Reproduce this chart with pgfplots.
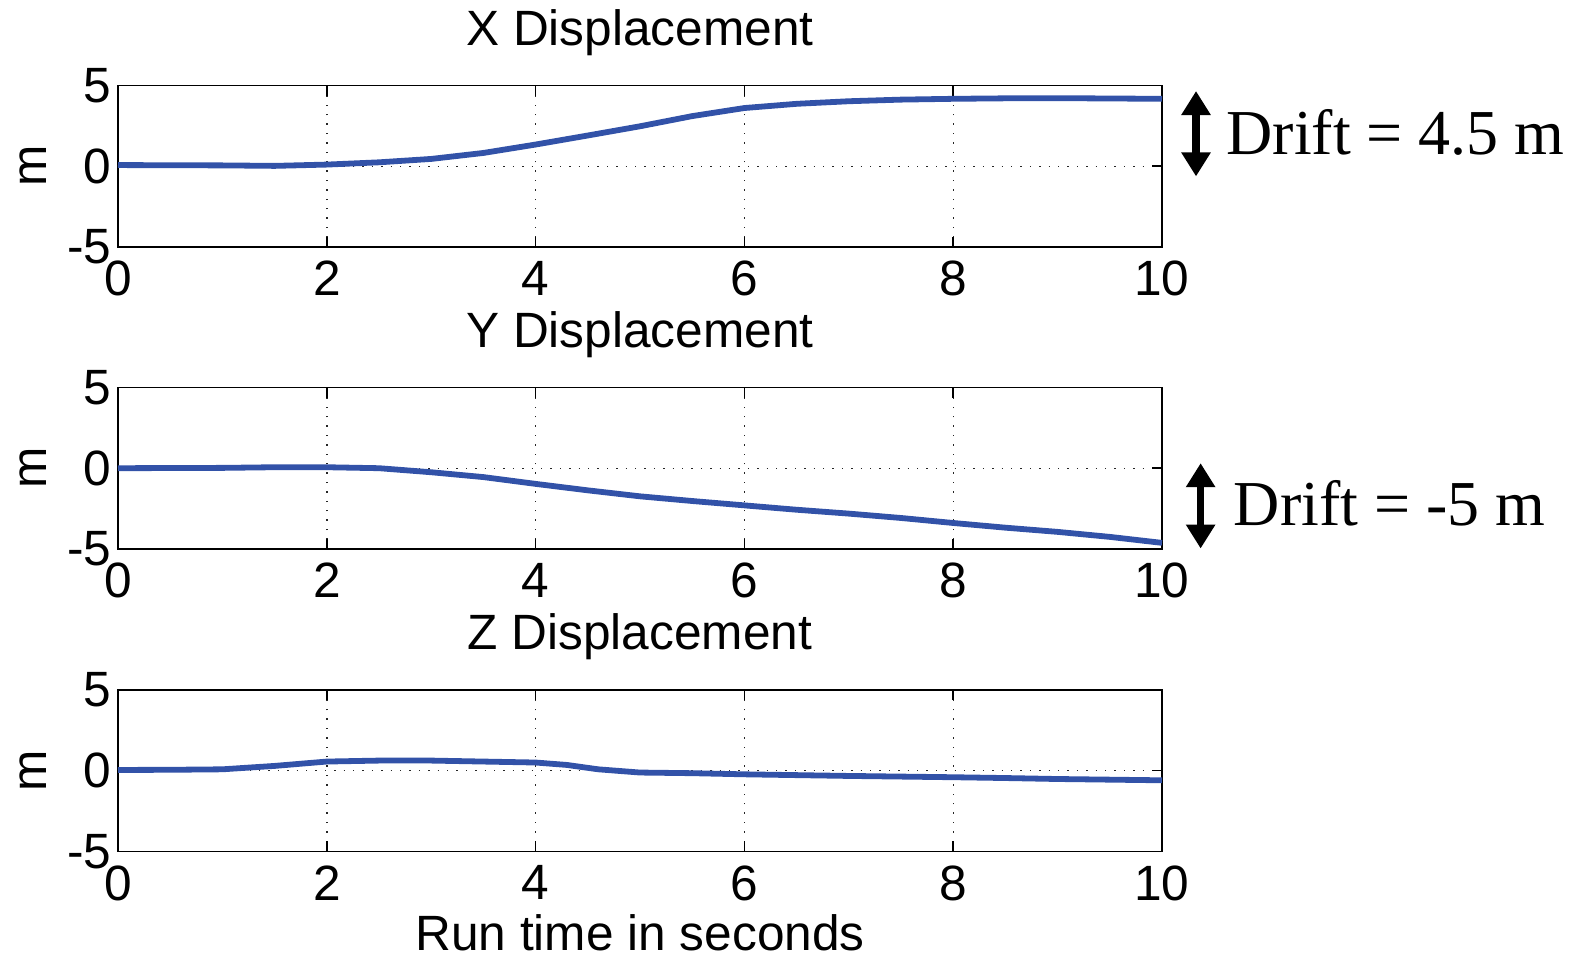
\documentclass[border=0pt]{standalone}
\usepackage{pgfplots}
\pgfplotsset{compat=1.18}
\usepackage{fontspec}
\setmainfont{Liberation Sans}
\newfontfamily\timesfont{Liberation Serif}
\usetikzlibrary{arrows.meta}
\definecolor{mblue}{RGB}{50,82,168}
\newcommand{\sansfs}{\fontsize{12.4}{14}\selectfont}
\newcommand{\driftfs}{\timesfont\fontsize{16}{18}\selectfont}
\tikzset{
  dline/.style={mblue, line width=1.45pt, line join=round},
  darrow/.style={line width=1.8pt, {Triangle[width=7pt,length=6pt]}-{Triangle[width=7pt,length=6pt]}},
}
\pgfplotsset{
  disp/.style={
    scale only axis, width=261pt, height=40.4pt,
    xmin=0, xmax=10, ymin=-5, ymax=5,
    xtick={0,2,4,6,8,10}, ytick={-5,0,5},
    xticklabels={0,2,4,6,8,10}, yticklabels={-5,0,5},
    grid=major, major grid style={black!85, line width=0.35pt, dotted},
    tick align=inside, major tick length=2.6pt,
    tick style={black, line width=0.4pt},
    axis line style={line width=0.4pt},
    ticklabel style={font=\sansfs},
    yticklabel style={inner xsep=1.5pt},
    anchor=south west, clip=false,
  },
}
\begin{document}
\begin{tikzpicture}
% X displacement
\begin{axis}[disp, at={(29.5pt,177.5pt)}]
\addplot[dline] coordinates {
(0,0.07) (0.5,0.06) (1,0.05) (1.5,0.02) (2,0.1) (2.5,0.24) (3,0.45) (3.5,0.82)
(4,1.34) (4.5,1.9) (5,2.47) (5.5,3.1) (6,3.6) (6.5,3.86) (7,4.02) (7.5,4.12)
(8,4.17) (8.5,4.2) (9,4.21) (9.5,4.19) (10,4.17)};
\node[font=\sansfs, anchor=base] at (axis cs:5,7.48) {X Displacement};
\node[font=\sansfs, rotate=90] at (axis cs:-0.814,0) {m};
\draw[darrow] (axis cs:10.326,4.65) -- (axis cs:10.326,-0.63);
\node[font=\driftfs, anchor=base west, inner sep=0pt] at (axis cs:10.61,0.71) {Drift = 4.5 m};
\end{axis}
% Y displacement
\begin{axis}[disp, at={(29.5pt,102pt)}]
\addplot[dline] coordinates {
(0,0) (0.5,0.01) (1,0.02) (1.5,0.06) (2,0.06) (2.5,0.0) (3,-0.25) (3.5,-0.55)
(4,-0.97) (4.5,-1.37) (5,-1.74) (5.5,-2.03) (6,-2.3) (6.5,-2.57) (7,-2.81)
(7.5,-3.08) (8,-3.39) (8.5,-3.68) (9,-3.94) (9.5,-4.25) (10,-4.62)};
\node[font=\sansfs, anchor=base] at (axis cs:5,7.48) {Y Displacement};
\node[font=\sansfs, rotate=90] at (axis cs:-0.814,0) {m};
\draw[darrow] (axis cs:10.37,0.31) -- (axis cs:10.37,-4.97);
\node[font=\driftfs, anchor=base west, inner sep=0pt] at (axis cs:10.68,-3.53) {Drift = -5 m};
\end{axis}
% Z displacement
\begin{axis}[disp, at={(29.5pt,26.4pt)}]
\addplot[dline] coordinates {
(0,0.04) (0.5,0.05) (1,0.08) (1.5,0.29) (2,0.56) (2.5,0.62) (3,0.62) (3.5,0.56)
(4,0.5) (4.3,0.35) (4.6,0.08) (5,-0.12) (5.5,-0.16) (6,-0.23) (6.5,-0.28)
(7,-0.33) (7.5,-0.37) (8,-0.41) (8.5,-0.46) (9,-0.52) (9.5,-0.56) (10,-0.6)};
\node[font=\sansfs, anchor=base] at (axis cs:5,7.48) {Z Displacement};
\node[font=\sansfs, rotate=90] at (axis cs:-0.814,0) {m};
\node[font=\sansfs, anchor=base] at (axis cs:5,-11.16) {Run time in seconds};
\end{axis}
\pgfresetboundingbox
\path (0,0) rectangle (394.5pt,239.25pt);
\end{tikzpicture}
\end{document}
